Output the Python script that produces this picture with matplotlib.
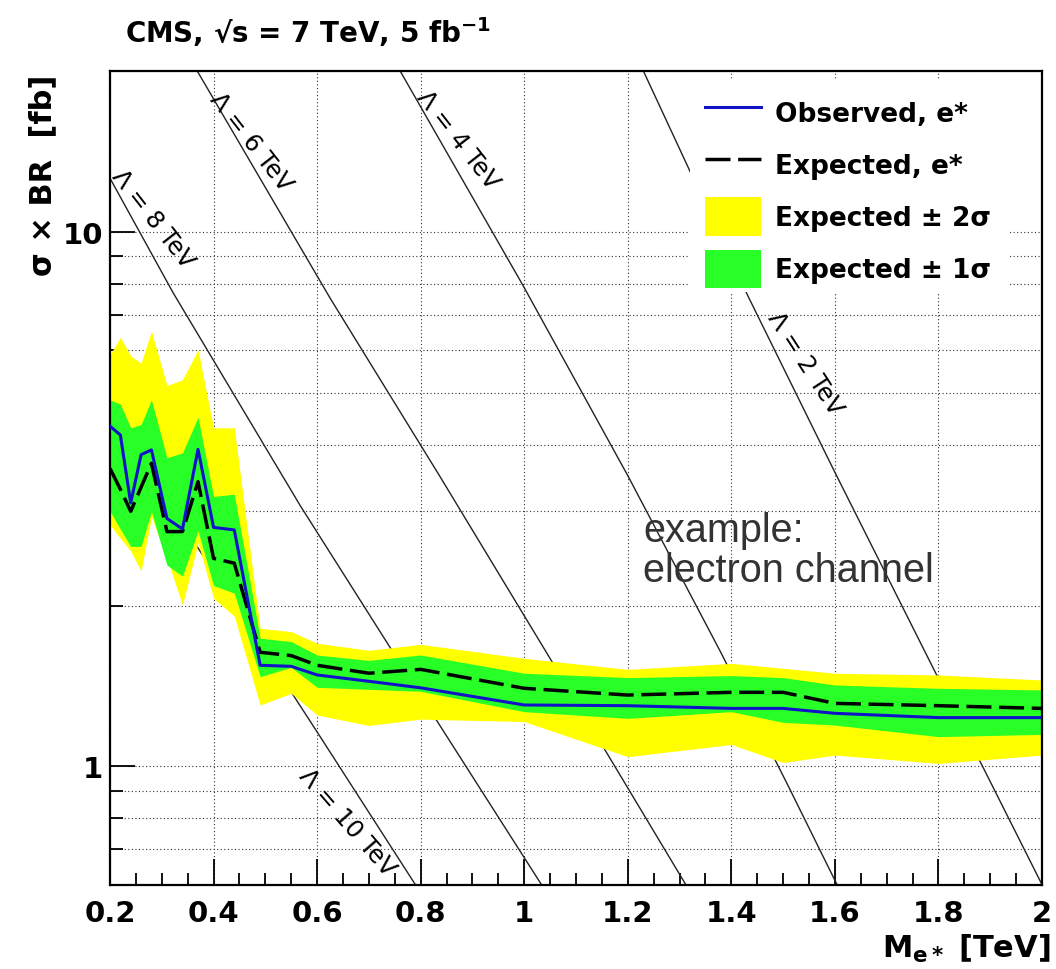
import numpy as np
import matplotlib.pyplot as plt
from matplotlib.patches import Patch, Rectangle
from matplotlib.lines import Line2D

# excited electron limits, sigma x BR in fb vs mass in TeV
mass = [0.20, 0.22, 0.24, 0.26, 0.28, 0.31, 0.34, 0.37, 0.40, 0.44, 0.49,
        0.55, 0.60, 0.70, 0.80, 1.00, 1.20, 1.40, 1.50, 1.60, 1.80, 2.00]
observed = [4.33, 4.17, 3.11, 3.83, 3.91, 2.91, 2.78, 3.92, 2.80, 2.77, 1.546,
            1.539, 1.483, 1.443, 1.403, 1.303, 1.299, 1.284, 1.284, 1.257, 1.234, 1.234]
expected = [3.61, 3.30, 3.00, 3.33, 3.69, 2.75, 2.75, 3.41, 2.45, 2.40, 1.635,
            1.612, 1.546, 1.494, 1.519, 1.400, 1.360, 1.376, 1.376, 1.312, 1.299, 1.284]
exp_2sig_up = [5.89, 6.35, 5.86, 5.68, 6.52, 5.16, 5.29, 6.02, 4.30, 4.30, 1.813,
               1.787, 1.700, 1.649, 1.692, 1.593, 1.519, 1.559, 1.526, 1.494, 1.483, 1.451]
exp_2sig_dn = [2.83, 2.67, 2.53, 2.32, 2.93, 2.45, 2.005, 2.62, 2.064, 1.910, 1.303,
               1.370, 1.248, 1.193, 1.226, 1.213, 1.043, 1.099, 1.017, 1.050, 1.013, 1.050]
exp_1sig_up = [4.85, 4.76, 4.30, 4.36, 4.85, 3.78, 3.86, 4.50, 3.20, 3.23, 1.737,
               1.712, 1.616, 1.579, 1.616, 1.494, 1.466, 1.479, 1.466, 1.420, 1.400, 1.390]
exp_1sig_dn = [3.00, 2.78, 2.58, 2.58, 3.00, 2.38, 2.27, 2.76, 2.18, 2.11, 1.472,
               1.532, 1.406, 1.394, 1.382, 1.266, 1.230, 1.266, 1.209, 1.195, 1.137, 1.148]

# theory curves for fixed compositeness scale Lambda
lam_curves = {
    2: ([1.225, 1.432, 1.600, 1.800, 2.000],
        [20.5, 7.59, 3.55, 1.46, 0.601]),
    4: ([0.754, 0.997, 1.200, 1.380, 1.509, 1.612],
        [20.5, 7.96, 3.50, 1.632, 0.923, 0.58]),
    6: ([0.362, 0.625, 0.837, 1.060, 1.312, 1.322],
        [20.5, 7.52, 3.49, 1.534, 0.601, 0.58]),
    8: ([0.200, 0.322, 0.567, 0.741, 0.901, 1.042],
        [12.6, 7.69, 3.08, 1.669, 0.954, 0.583]),
    10: ([0.200, 0.400, 0.600, 0.800],
         [4.62, 2.31, 1.16, 0.58]),
}
# label anchor (mass, xs) and angle per curve
lam_labels = {
    8: (0.282, 10.6, -52),
    6: (0.472, 14.8, -52),
    4: (0.872, 14.9, -52),
    2: (1.542, 5.68, -57),
    10: (0.658, 0.789, -49),
}

xticks = [0.2, 0.4, 0.6, 0.8, 1.0, 1.2, 1.4, 1.6, 1.8, 2.0]
xtick_labels = ['0.2', '0.4', '0.6', '0.8', '1', '1.2', '1.4', '1.6', '1.8', '2']

plt.rcParams['font.family'] = ['DejaVu Sans']
yellow = '#ffff00'
green = '#27ff27'
blue = '#1212c8'

fig = plt.figure(figsize=(10.56, 9.70), dpi=100, facecolor='w')
ax = fig.add_axes([110 / 1056, 84 / 970, 932 / 1056, 814 / 970])
ax.set_yscale('log')
ax.set_xlim(0.2, 2.0)
ax.set_ylim(0.6, 20)

for lam, (m, xs) in lam_curves.items():
    ax.plot(m, xs, color='#222222', lw=1.0, zorder=1.2)
    lx, ly, rot = lam_labels[lam]
    ax.text(lx, ly, 'Λ = %d TeV' % lam, rotation=rot, rotation_mode='anchor',
            ha='center', va='center', fontsize=17.5, color='black', zorder=1.3)

ax.fill_between(mass, exp_2sig_dn, exp_2sig_up, color=yellow, lw=0, zorder=1.6)
ax.fill_between(mass, exp_1sig_dn, exp_1sig_up, color=green, lw=0, zorder=1.7)
ax.plot(mass, expected, color='black', lw=2.5, linestyle=(0, (7.2, 2.2)), zorder=2.5)
ax.plot(mass, observed, color=blue, lw=2.2, zorder=2.6)

ax.set_xticks(xticks, labels=xtick_labels)
ax.set_xticks(np.arange(0.2, 2.001, 0.05), minor=True)
ax.set_yticks([1, 10], labels=['1', '10'])
ax.set_yticks([0.6, 0.7, 0.8, 0.9, 2, 3, 4, 5, 6, 7, 8, 9, 20], minor=True)
ax.yaxis.set_minor_formatter(plt.NullFormatter())
ax.tick_params(which='both', direction='in', top=False, right=False, width=1.3, colors='black')
ax.tick_params(axis='x', which='major', length=19, pad=10, labelsize=21)
ax.tick_params(axis='x', which='minor', length=9)
ax.tick_params(axis='y', which='major', length=18, pad=5, labelsize=21)
ax.tick_params(axis='y', which='minor', length=9)
for lab in ax.get_xticklabels() + ax.get_yticklabels():
    lab.set_fontweight('bold')

ax.set_axisbelow(True)
ax.xaxis.grid(True, which='major', color='#333333', lw=0.8, linestyle=(0, (1, 2.2)))
ax.yaxis.grid(True, which='both', color='#333333', lw=0.8, linestyle=(0, (1, 2.2)))
for sp in ax.spines.values():
    sp.set_linewidth(1.6)

# legend sits on a white pad that hides the grid and curves
ax.add_patch(Rectangle((0.622, 0.7285), 0.344, 0.2617, transform=ax.transAxes,
                       facecolor='white', edgecolor='none', zorder=4))
handles = [
    Line2D([], [], color=blue, lw=2.2),
    Line2D([], [], color='black', lw=2.5, linestyle=(0, (7.2, 2.2))),
    Patch(facecolor=yellow, edgecolor='none'),
    Patch(facecolor=green, edgecolor='none'),
]
labels = ['Observed, e*', 'Expected, e*', 'Expected ± 2σ', 'Expected ± 1σ']
leg = ax.legend(handles, labels, loc='upper left', bbox_to_anchor=(0.6384, 0.9724),
                frameon=False, borderpad=0, borderaxespad=0,
                prop={'weight': 'bold', 'size': 19},
                handlelength=2.12, handleheight=1.84, handletextpad=0.53,
                labelspacing=0.53)
leg.set_zorder(5)

fig.text(125 / 1056, 1 - 43 / 970, r'CMS, √s = 7 TeV, 5 fb$^{\mathbf{-1}}$',
         fontsize=20, fontweight='bold', ha='left', va='baseline')
fig.text(43 / 1056, 1 - 75 / 970, 'σ × BR  [fb]', rotation=90,
         fontsize=22, fontweight='bold', ha='center', va='top')
fig.text(1050 / 1056, 1 - 958 / 970, r'M$_{\mathbf{e*}}$ [TeV]',
         fontsize=22, fontweight='bold', ha='right', va='baseline')
fig.text(643 / 1056, 1 - 512 / 970, 'example:\nelectron channel', family='Liberation Sans',
         fontsize=28.5, color='#333333', ha='left', va='top', linespacing=1.05)

fig.savefig('out.png', dpi=100)
